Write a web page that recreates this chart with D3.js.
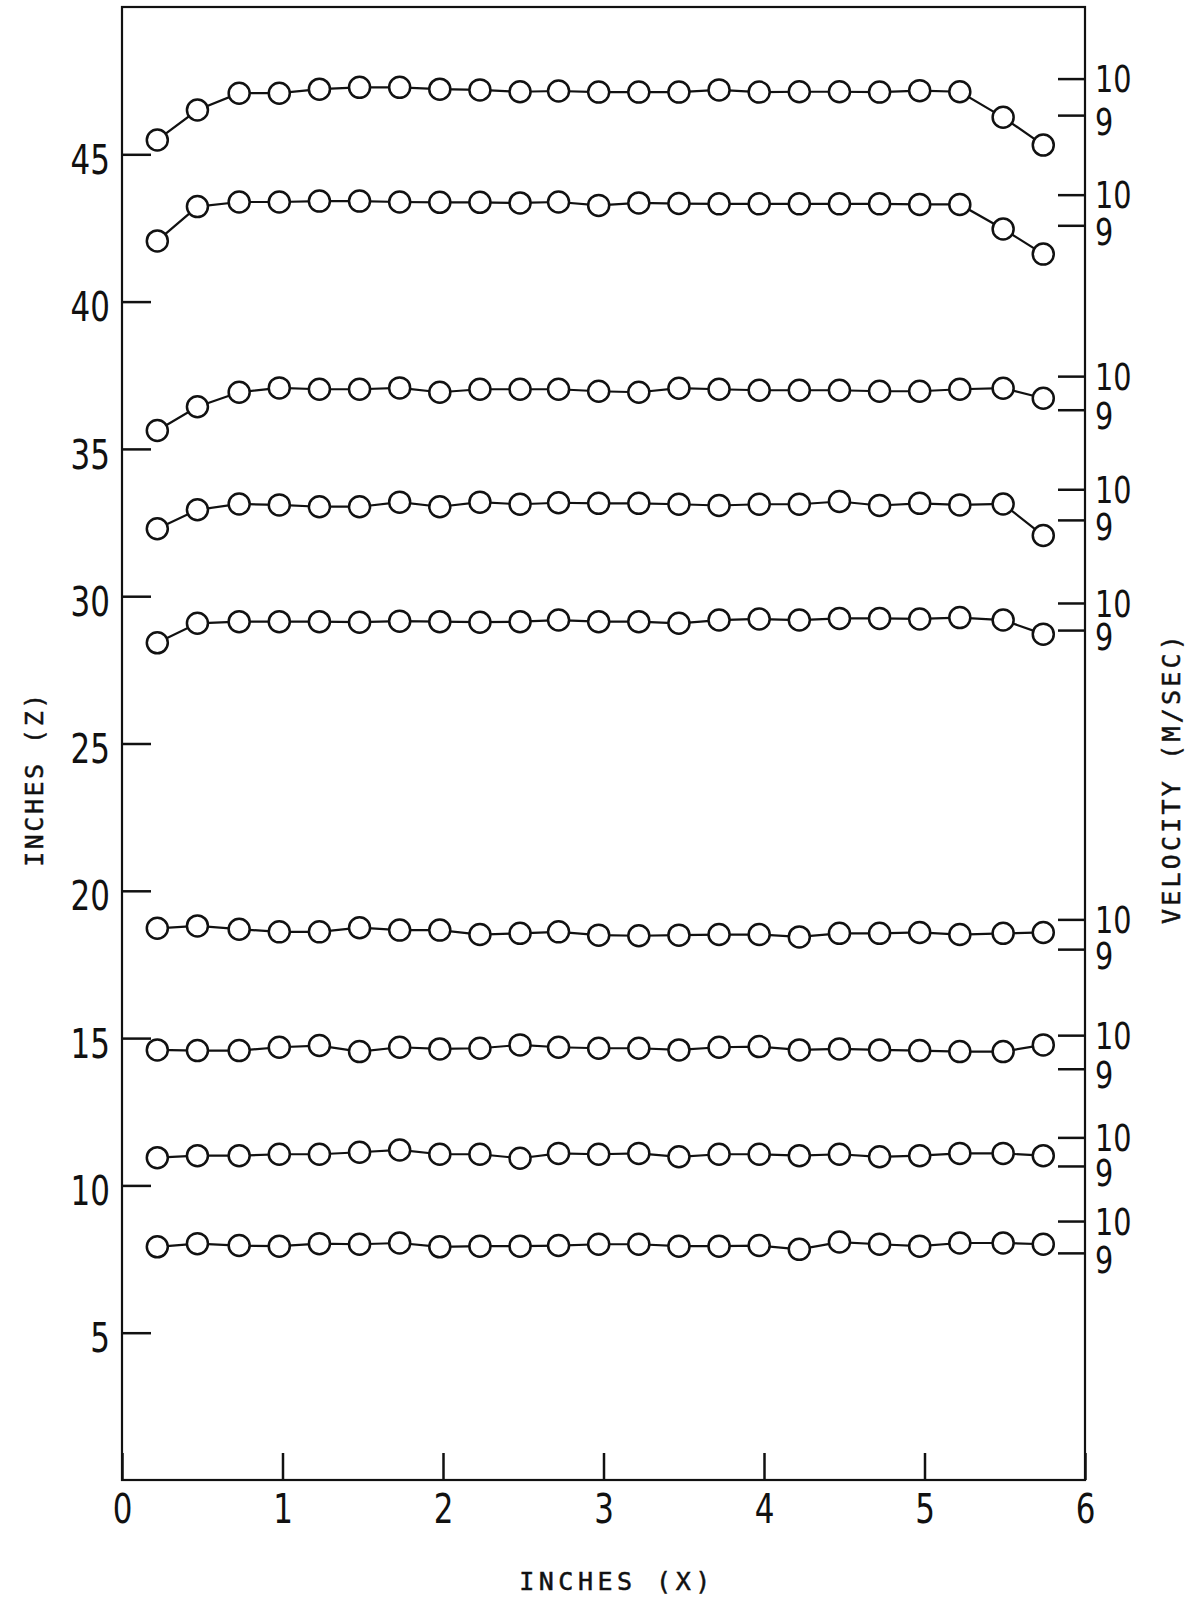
<!DOCTYPE html>
<html>
<head>
<meta charset="utf-8">
<script src="https://cdn.jsdelivr.net/npm/d3@7"></script>
<style>
  html, body { margin: 0; padding: 0; background: #fff; }
  svg { display: block; }
  .num { font-family: "DejaVu Sans Condensed", "DejaVu Sans", sans-serif; font-size: 41px; fill: #111; }
  .vnum { font-size: 38px; }
  .title { font-family: "DejaVu Sans Mono", "Liberation Mono", monospace; font-size: 25px; fill: #111; stroke: #111; stroke-width: 0.5px; }
</style>
</head>
<body>
<svg id="chart" width="1197" height="1597"></svg>
<script>
// Horizontal traverse stations, inches (x)
const xStations = [0.22, 0.47, 0.73, 0.98, 1.23, 1.48, 1.73, 1.98, 2.23, 2.48, 2.72, 2.97,
                   3.22, 3.47, 3.72, 3.97, 4.22, 4.47, 4.72, 4.97, 5.22, 5.49, 5.74];

// Measured velocities (m/s) along each traverse, top profile first
const velZ46 = [8.32, 9.14, 9.60, 9.60, 9.71, 9.76, 9.76, 9.71, 9.69, 9.64, 9.66, 9.63,
                9.63, 9.63, 9.69, 9.63, 9.64, 9.64, 9.63, 9.67, 9.64, 8.94, 8.18];
const velZ42 = [8.49, 9.61, 9.76, 9.76, 9.79, 9.79, 9.76, 9.75, 9.75, 9.73, 9.76, 9.65,
                9.73, 9.71, 9.70, 9.70, 9.70, 9.70, 9.70, 9.68, 9.68, 8.88, 8.06];
const velZ36 = [8.38, 9.09, 9.52, 9.65, 9.61, 9.61, 9.65, 9.52, 9.61, 9.61, 9.61, 9.55,
                9.52, 9.64, 9.61, 9.58, 9.58, 9.58, 9.55, 9.55, 9.61, 9.64, 9.34];
const velZ32 = [8.71, 9.33, 9.52, 9.49, 9.43, 9.43, 9.58, 9.43, 9.58, 9.51, 9.56, 9.54,
                9.54, 9.51, 9.47, 9.51, 9.51, 9.60, 9.47, 9.54, 9.49, 9.52, 8.49];
const velZ29 = [8.53, 9.25, 9.31, 9.31, 9.31, 9.29, 9.33, 9.31, 9.29, 9.31, 9.37, 9.31,
                9.31, 9.25, 9.37, 9.41, 9.37, 9.43, 9.43, 9.41, 9.46, 9.37, 8.85];
const velZ18 = [9.70, 9.78, 9.67, 9.58, 9.58, 9.72, 9.64, 9.64, 9.49, 9.53, 9.58, 9.47,
                9.45, 9.47, 9.49, 9.49, 9.41, 9.53, 9.53, 9.56, 9.49, 9.53, 9.56];
const velZ14 = [9.56, 9.54, 9.54, 9.64, 9.69, 9.51, 9.64, 9.59, 9.61, 9.71, 9.64, 9.61,
                9.61, 9.56, 9.64, 9.66, 9.56, 9.59, 9.56, 9.54, 9.51, 9.51, 9.71];
const velZ11 = [9.29, 9.36, 9.36, 9.41, 9.41, 9.48, 9.56, 9.41, 9.41, 9.27, 9.44, 9.41,
                9.44, 9.32, 9.41, 9.41, 9.36, 9.41, 9.32, 9.36, 9.44, 9.44, 9.36];
const velZ8  = [9.19, 9.29, 9.23, 9.21, 9.29, 9.27, 9.31, 9.19, 9.21, 9.21, 9.23, 9.27,
                9.27, 9.21, 9.21, 9.23, 9.11, 9.34, 9.27, 9.21, 9.31, 9.31, 9.27];

const profiles = [velZ46, velZ42, velZ36, velZ32, velZ29, velZ18, velZ14, velZ11, velZ8];

// Tick labels
const zTicks = [5, 10, 15, 20, 25, 30, 35, 40, 45];
const xTicks = [0, 1, 2, 3, 4, 5, 6];
const velTicks = [9, 10];

// Layout: height (z, inches) where each profile's own 9 and 10 m/s marks sit
const velAxisAnchors = [
  [46.33, 47.57], [42.59, 43.63], [36.33, 37.47], [32.59, 33.63], [28.85, 29.77],
  [18.02, 19.03], [13.96, 15.10], [10.66, 11.63], [7.71, 8.79]
];

const svg = d3.select("#chart");
const plotLeft = 122, plotRight = 1085, plotTop = 7, plotBottom = 1480;

const x = d3.scaleLinear().domain([0, 6]).range([plotLeft, plotRight]);
const z = d3.scaleLinear().domain([0, 50]).range([plotBottom, plotTop]);

const ink = "#111";
const narrow = 0.84;   // horizontal squeeze for the lettered numerals

// Squeeze tick numerals horizontally, keeping their anchor point fixed
function squeeze(sel) {
  sel.each(function () {
    const t = d3.select(this);
    const x0 = +(t.attr("x") || 0);
    t.attr("x", x0 / narrow).attr("transform", `scale(${narrow},1)`);
  });
}

// Frame
svg.append("rect")
  .attr("x", plotLeft).attr("y", plotTop)
  .attr("width", plotRight - plotLeft).attr("height", plotBottom - plotTop)
  .attr("fill", "none").attr("stroke", ink).attr("stroke-width", 2.2);

// Left z axis
const zAxis = svg.append("g")
  .attr("transform", `translate(${plotLeft},0)`)
  .call(d3.axisLeft(z).tickValues(zTicks).tickFormat(d3.format("d"))
        .tickSizeInner(-29).tickSizeOuter(0).tickPadding(12));
zAxis.select(".domain").remove();
zAxis.selectAll("line").attr("stroke", ink).attr("stroke-width", 2.5);
zAxis.selectAll("text").attr("class", "num").attr("y", 6).attr("fill", null).call(squeeze);

// Bottom x axis
const xAxis = svg.append("g")
  .attr("transform", `translate(0,${plotBottom})`)
  .call(d3.axisBottom(x).tickValues(xTicks).tickFormat(d3.format("d"))
        .tickSizeInner(-27).tickSizeOuter(0).tickPadding(14));
xAxis.select(".domain").remove();
xAxis.selectAll("line").attr("stroke", ink).attr("stroke-width", 2.5);
xAxis.selectAll("text").attr("class", "num").attr("fill", null).call(squeeze);

// Velocity profiles, each with its own 9–10 m/s scale on the right
profiles.forEach((vals, i) => {
  const [z9, z10] = velAxisAnchors[i];
  const v = d3.scaleLinear().domain([9, 10]).range([z(z9), z(z10)]);

  const vAxis = svg.append("g")
    .attr("transform", `translate(${plotRight},0)`)
    .call(d3.axisRight(v).tickValues(velTicks).tickFormat(d3.format("d"))
          .tickSizeInner(-27).tickSizeOuter(0).tickPadding(10));
  vAxis.select(".domain").remove();
  vAxis.selectAll("line").attr("stroke", ink).attr("stroke-width", 2.5);
  vAxis.selectAll("text")
    .attr("class", "num vnum").attr("fill", null)
    .attr("y", d => d === 10 ? 1 : 7)
    .call(squeeze);

  const pts = xStations.map((xs, k) => [x(xs), v(vals[k])]);

  svg.append("path")
    .attr("d", d3.line()(pts))
    .attr("fill", "none").attr("stroke", ink).attr("stroke-width", 2.2);

  svg.append("g").selectAll("circle")
    .data(pts).join("circle")
    .attr("cx", d => d[0]).attr("cy", d => d[1]).attr("r", 10.5)
    .attr("fill", "#fff").attr("stroke", ink).attr("stroke-width", 2.5);
});

// Axis titles
svg.append("text").attr("class", "title")
  .attr("transform", "translate(43,779) rotate(-90)")
  .attr("letter-spacing", 2.5)
  .attr("text-anchor", "middle").text("INCHES (Z)");

svg.append("text").attr("class", "title")
  .attr("transform", "translate(1180,778) rotate(-90)")
  .attr("letter-spacing", 3.2)
  .attr("text-anchor", "middle").text("VELOCITY (M/SEC)");

svg.append("text").attr("class", "title")
  .attr("x", 617).attr("y", 1590)
  .attr("font-size", 26).attr("letter-spacing", 4.5)
  .attr("text-anchor", "middle").text("INCHES (X)");
</script>
</body>
</html>
